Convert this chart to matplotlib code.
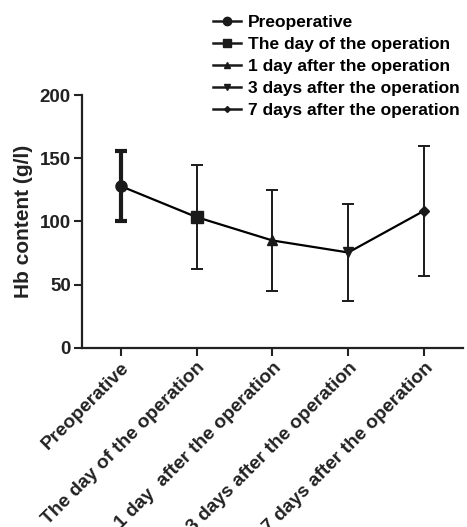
import matplotlib
matplotlib.use("Agg")
import matplotlib.pyplot as plt
from matplotlib.lines import Line2D

categories = ["Preoperative", "The day of the operation", "1 day  after the operation",
              "3 days after the operation", "7 days after the operation"]
legend_labels = ["Preoperative", "The day of the operation", "1 day after the operation",
                 "3 days after the operation", "7 days after the operation"]
means = [128, 103.5, 85, 75.5, 108.5]
sds = [28, 41, 40, 38.5, 51.5]
markers = ["o", "s", "^", "v", "D"]
msizes = [8, 8, 7, 7, 5]
yticks = [0, 50, 100, 150, 200]

plt.rcParams['font.family'] = ['Liberation Sans', 'DejaVu Sans']
plt.rcParams['font.weight'] = 'bold'
dark = '#222222'

fig = plt.figure(figsize=(4.67, 5.27), dpi=100)
ax = fig.add_axes([0.1756, 0.3397, 0.8154, 0.48])

x = list(range(len(categories)))
ax.plot(x, means, color='black', lw=1.6, zorder=2)
for i, (m, s, mk) in enumerate(zip(means, sds, markers)):
    lw = 3.0 if i == 0 else 1.4
    ax.errorbar([i], [m], yerr=[s], fmt=mk, color='#1a1a1a', ms=msizes[i],
                ecolor='#1a1a1a', elinewidth=lw, capsize=4.5, capthick=lw,
                zorder=3)

ax.set_xlim(-0.51, 4.51)
ax.set_ylim(0, 200)
ax.set_yticks(yticks)
ax.set_xticks(x)
ax.set_xticklabels(categories, rotation=45, ha='right', rotation_mode='anchor',
                   fontsize=13.8, fontweight='bold', color=dark)
ax.tick_params(axis='y', labelsize=13.5, width=1.5, length=6, colors=dark, pad=2)
ax.tick_params(axis='x', width=1.5, length=6, colors=dark, pad=2)
for lbl in ax.get_yticklabels():
    lbl.set_fontweight('bold')
ax.set_ylabel("Hb content (g/l)", fontsize=15, fontweight='bold', color=dark, labelpad=5)
for sp in ['top', 'right']:
    ax.spines[sp].set_visible(False)
for sp in ['left', 'bottom']:
    ax.spines[sp].set_linewidth(1.6)
    ax.spines[sp].set_color(dark)

handles = [Line2D([], [], color='#1a1a1a', lw=1.8, marker=mk, ms=msizes[i] - 2)
           for i, mk in enumerate(markers)]
fig.legend(handles, legend_labels, loc='upper left',
           bbox_to_anchor=(0.456, 0.972), frameon=False,
           handlelength=1.6, handletextpad=0.4, labelspacing=0.4, borderaxespad=0,
           borderpad=0, prop={'weight': 'bold', 'size': 12.5})

fig.savefig("out.png", dpi=100)
